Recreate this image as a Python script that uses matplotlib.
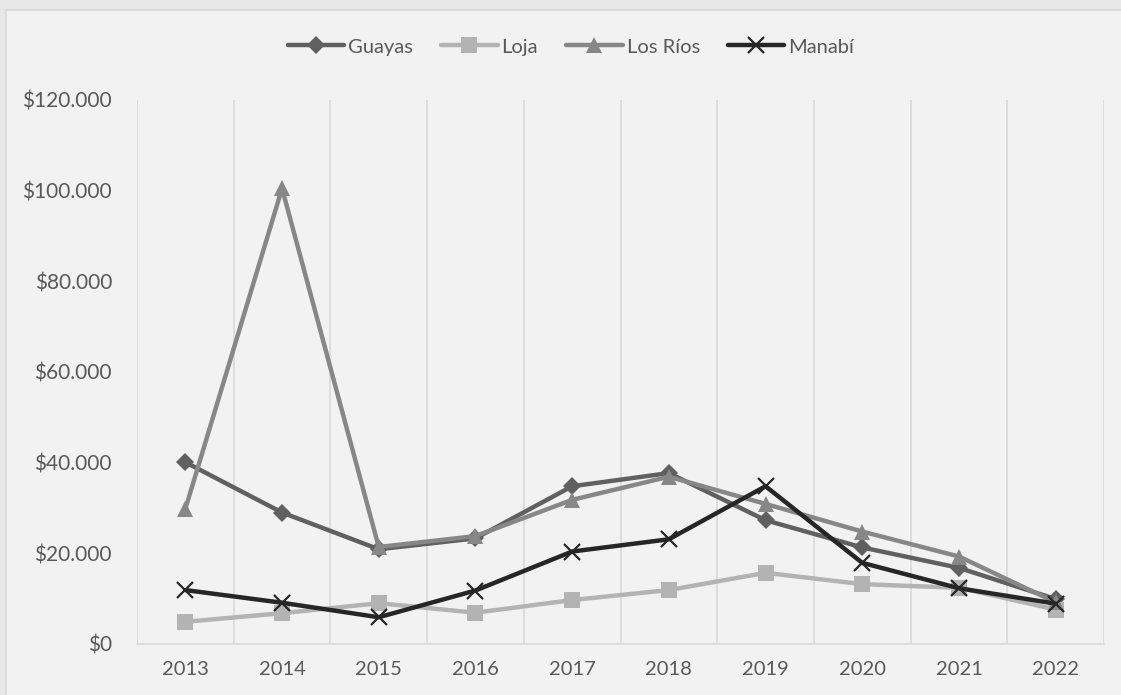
"""
Línea de valores anuales por provincia (2013-2022), estilo Excel en grises.
"""

import numpy as np
import matplotlib
matplotlib.use("Agg")
import matplotlib.pyplot as plt
import matplotlib.ticker as ticker
from matplotlib.patches import Rectangle


# ===================
#  DATA
# ===================

years = ["2013", "2014", "2015", "2016", "2017",
         "2018", "2019", "2020", "2021", "2022"]

guayas   = [40100, 29000, 20900, 23300, 34800, 37700, 27300, 21300, 16800, 9900]
loja     = [4900,  6800,  9000,  6900,  9700,  11900, 15700, 13200, 12400, 7600]
los_rios = [29800, 100500, 21400, 23800, 31800, 36900, 30900, 24800, 19300, 9200]
manabi   = [11900, 9100,  5900,  11800, 20400, 23100, 34800, 17900, 12300, 8900]

y_ticks = [0, 20000, 40000, 60000, 80000, 100000, 120000]


# ===================
#  STYLE
# ===================

plt.rcParams["font.family"] = ["Lato", "DejaVu Sans"]

TEXT   = "#595959"
GRID   = "#d9d9d9"
OUTER  = "#e7e7e7"
INNER  = "#f2f2f2"

series = [
    ("Guayas",   guayas,   "#606060", "D", 9.5, 0),
    ("Loja",     loja,     "#b3b3b3", "s", 12,  0),
    ("Los Ríos", los_rios, "#878787", "^", 12,  0),
    ("Manabí",   manabi,   "#262626", "x", 12,  1.6),
]


# ===================
#  PLOTTING
# ===================

W, H = 1121, 695
fig = plt.figure(figsize=(W / 100, H / 100), dpi=100, facecolor=OUTER)

# chart area panel (slightly inset from the top-left corner)
fig.patches.append(Rectangle((6 / W, -0.01), 1.0, (H - 10) / H + 0.01,
                             transform=fig.transFigure, facecolor=INNER,
                             edgecolor=GRID, linewidth=1.2, zorder=-10))

ax = fig.add_axes([137 / W, (H - 644) / H, 967 / W, 544 / H])
ax.set_facecolor(INNER)
ax.set_zorder(1)

x = np.arange(len(years))
handles = []
for name, vals, color, marker, ms, mew in series:
    kw = dict(color=color, linewidth=3.2, marker=marker, markersize=ms,
              label=name, solid_joinstyle="round", solid_capstyle="round")
    if marker == "x":
        kw.update(markeredgewidth=mew, markeredgecolor=color)
    else:
        kw.update(markeredgewidth=0, markerfacecolor=color)
    line, = ax.plot(x, vals, **kw)
    handles.append(line)

# axes
ax.set_xlim(-0.5, len(years) - 0.5)
ax.set_ylim(0, 120000)
ax.set_xticks(x)
ax.set_xticklabels(years)
ax.set_xticks(np.arange(-0.5, len(years), 1.0), minor=True)
ax.set_yticks(y_ticks)
ax.yaxis.set_major_formatter(ticker.FuncFormatter(
    lambda v, _: "$" + f"{int(v):,}".replace(",", ".")))

ax.grid(True, which="minor", axis="x", color=GRID, linewidth=1.2)
ax.grid(False, which="major")
ax.set_axisbelow(True)

ax.tick_params(axis="both", which="both", length=0)
ax.tick_params(axis="x", which="major", pad=12, labelsize=14.5, labelcolor=TEXT)
ax.tick_params(axis="y", pad=18, labelsize=15, labelcolor=TEXT)

for side in ("top", "left", "right"):
    ax.spines[side].set_visible(False)
ax.spines["bottom"].set_color(GRID)
ax.spines["bottom"].set_linewidth(1.2)

# legend centred above the plot
fig.legend(handles=handles, loc="center", bbox_to_anchor=(571 / W, 1 - 47 / H),
           ncol=4, frameon=False, fontsize=14.5, labelcolor=TEXT,
           handlelength=2.8, handletextpad=0.2, columnspacing=1.4)

plt.savefig("out.png", dpi=100, facecolor=OUTER)
print("Saved -> out.png")
